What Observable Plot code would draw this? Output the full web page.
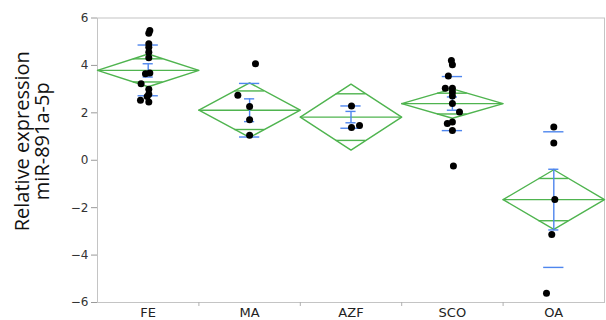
<!DOCTYPE html>
<html>
<head>
<meta charset="utf-8">
<script src="https://cdn.jsdelivr.net/npm/d3@7"></script>
<script src="https://cdn.jsdelivr.net/npm/@observablehq/plot@0.6"></script>
<style>
  html, body { margin: 0; padding: 0; background: #fff; }
  #chart svg { display: block; }
</style>
</head>
<body>
<div id="chart"></div>
<script>
// Groups
const categories = ["FE", "MA", "AZF", "SCO", "OA"];
// Group summary statistics
const means  = [3.79, 2.11, 1.82, 2.39, -1.66];
const ci95   = [0.69, 1.15, 1.39, 0.62, 1.26];   // diamond half-height
const stdErr = [0.28, 0.48, 0.24, 0.28, 1.28];   // mean error bars
const stdDev = [1.07, 1.13, 0.47, 1.14, 2.86];   // std dev lines

// Individual observations (group index, value, horizontal jitter in group units)
const obsGroup = [0,0,0,0,0,0,0,0,0,0,0,0,0,0, 1,1,1,1,1, 2,2,2, 3,3,3,3,3,3,3,3,3,3,3,3,3, 4,4,4,4,4];
const obsValue = [5.47,5.36,4.91,4.77,4.56,4.32,3.68,3.65,3.23,2.99,2.78,2.69,2.53,2.46,
                  4.07,2.74,2.27,1.71,1.05,
                  2.29,1.38,1.47,
                  4.21,4.03,3.55,3.04,3.04,2.88,2.71,2.39,2.03,1.61,1.55,1.25,-0.24,
                  1.40,0.73,-1.66,-3.13,-5.61];
const obsJitter = [0.016,0.006,0.006,0.006,0.006,0.006,0.016,-0.027,-0.07,0.006,0.006,-0.01,-0.076,0.006,
                   0.058,-0.116,0,0,0,
                   0.005,0.005,0.084,
                   -0.01,0,-0.04,-0.07,0,0,0,0,0.07,0,-0.05,0,0.01,
                   0,0,0.01,-0.02,-0.072];
const yTicks = [-6, -4, -2, 0, 2, 4, 6];
const yTitle = "Relative expression\nmiR-891a-5p";

// Derived tables
const groups = categories.map((name, i) => ({
  i, name, mean: means[i], ci: ci95[i], se: stdErr[i], sd: stdDev[i]
}));
const diamond = groups.flatMap(g => [
  {g: g.i, x: g.i - 0.5, y: g.mean},
  {g: g.i, x: g.i, y: g.mean + g.ci},
  {g: g.i, x: g.i + 0.5, y: g.mean},
  {g: g.i, x: g.i, y: g.mean - g.ci},
  {g: g.i, x: g.i - 0.5, y: g.mean}
]);
const k = Math.SQRT1_2;
const ow = 0.5 * (1 - k);
const overlap = groups.flatMap(g => [
  {i: g.i, y: g.mean + g.ci * k},
  {i: g.i, y: g.mean - g.ci * k}
]);
const seCaps = groups.flatMap(g => [
  {i: g.i, y: g.mean + g.se},
  {i: g.i, y: g.mean - g.se}
]);
const sdLines = groups.flatMap(g => [
  {i: g.i, y: g.mean + g.sd},
  {i: g.i, y: g.mean - g.sd}
]);
const obs = obsValue.map((v, j) => ({x: obsGroup[j] + obsJitter[j], y: v}));

const green = "#4fb44f";
const blue = "#4f86ee";
const font = "DejaVu Sans";

const chart = Plot.plot({
  width: 606,
  height: 320,
  marginLeft: 97,
  marginRight: 2,
  marginTop: 17.5,
  marginBottom: 18,
  style: {fontFamily: font, background: "#fff"},
  x: {domain: [-0.5, 4.5]},
  y: {domain: [-6, 6]},
  marks: [
    Plot.frame({stroke: "#c4c4c4"}),
    Plot.axisY({ticks: yTicks, tickSize: 6, tickPadding: 3, fontSize: 12, stroke: "#9a9a9a", fill: "#333", label: null}),
    Plot.axisX({ticks: [0.5, 1.5, 2.5, 3.5], tickSize: 4, stroke: "#b0b0b0", tickFormat: () => "", label: null}),
    Plot.axisX({ticks: [0, 1, 2, 3, 4], tickSize: 0, tickPadding: 5, fontSize: 13, fill: "#222", tickFormat: i => categories[i], label: null}),
    Plot.text([yTitle], {frameAnchor: "left", textAnchor: "middle", lineAnchor: "middle", rotate: -90, dx: -65, dy: -19, fontSize: 20, fontFamily: "Open Sans", lineHeight: 1, fill: "#111", text: d => d}),
    // diamonds
    Plot.line(diamond, {x: "x", y: "y", z: "g", stroke: green, strokeWidth: 1.4}),
    Plot.ruleY(groups, {y: "mean", x1: d => d.i - 0.5, x2: d => d.i + 0.5, stroke: green, strokeWidth: 1.4}),
    Plot.ruleY(overlap, {y: "y", x1: d => d.i - ow, x2: d => d.i + ow, stroke: green, strokeWidth: 1.4}),
    // std dev lines
    Plot.ruleY(sdLines, {y: "y", x1: d => d.i - 0.1, x2: d => d.i + 0.1, stroke: blue, strokeWidth: 1.4}),
    // mean error bars
    Plot.ruleX(groups, {x: "i", y1: d => d.mean - d.se, y2: d => d.mean + d.se, stroke: blue, strokeWidth: 1.4}),
    Plot.ruleY(seCaps, {y: "y", x1: d => d.i - 0.05, x2: d => d.i + 0.05, stroke: blue, strokeWidth: 1.4}),
    // observations
    Plot.dot(obs, {x: "x", y: "y", r: 3.5, fill: "#000", stroke: null})
  ]
});
document.getElementById("chart").appendChild(chart);
</script>
</body>
</html>
